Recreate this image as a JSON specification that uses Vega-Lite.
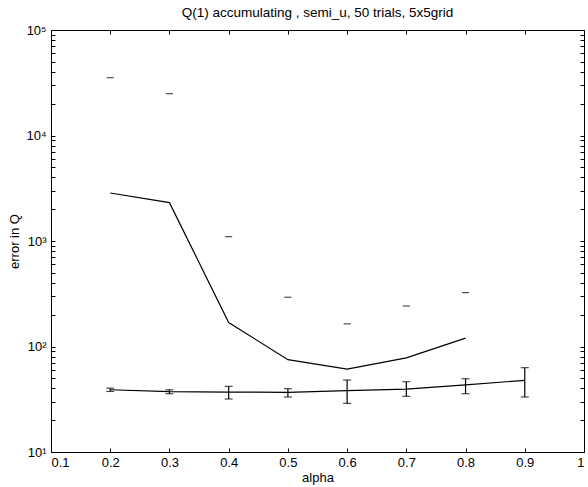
{
  "$schema": "https://vega.github.io/schema/vega-lite/v6.json",
  "width": 533,
  "height": 422,
  "autosize": {"type": "none"},
  "padding": {"left": 51, "top": 30, "right": 4, "bottom": 35},
  "background": "white",
  "title": {"text": "Q(1) accumulating , semi_u, 50 trials, 5x5grid", "fontSize": 13.5, "fontWeight": "normal", "font": "Liberation Sans", "anchor": "middle", "offset": 5, "color": "black"},
  "config": {
    "view": {"stroke": "black", "strokeWidth": 1},
    "font": "Liberation Sans",
    "axis": {"grid": false, "domain": false, "tickColor": "black", "tickSize": 4, "offset": -4, "labelFontSize": 13, "labelColor": "black", "titleFontSize": 13, "titleFontWeight": "normal", "titleColor": "black", "labelFont": "Liberation Sans", "titleFont": "Liberation Sans"}
  },
  "datasets": {
    "upper": [
      {"alpha": 0.2, "mean": 2850, "cap": 35300},
      {"alpha": 0.3, "mean": 2310, "cap": 24900},
      {"alpha": 0.4, "mean": 169, "cap": 1100},
      {"alpha": 0.5, "mean": 75, "cap": 293},
      {"alpha": 0.6, "mean": 61, "cap": 164},
      {"alpha": 0.7, "mean": 78, "cap": 242},
      {"alpha": 0.8, "mean": 120, "cap": 324}
    ],
    "lower": [
      {"alpha": 0.2, "mean": 38.9, "lo": 37.5, "hi": 40.3},
      {"alpha": 0.3, "mean": 37.3, "lo": 35.7, "hi": 38.9},
      {"alpha": 0.4, "mean": 37.0, "lo": 31.8, "hi": 41.9},
      {"alpha": 0.5, "mean": 36.8, "lo": 33.2, "hi": 39.8},
      {"alpha": 0.6, "mean": 38.1, "lo": 28.9, "hi": 48.1},
      {"alpha": 0.7, "mean": 39.5, "lo": 33.7, "hi": 46.4},
      {"alpha": 0.8, "mean": 43.2, "lo": 35.7, "hi": 49.5},
      {"alpha": 0.9, "mean": 47.8, "lo": 33.2, "hi": 63.0}
    ]
  },
  "layer": [
    {
      "data": {"name": "upper"},
      "mark": {"type": "line", "color": "black", "strokeWidth": 1.2},
      "encoding": {
        "x": {"field": "alpha", "type": "quantitative", "scale": {"domain": [0.1, 1], "nice": false, "zero": false},
              "axis": {"orient": "bottom", "title": "alpha", "values": [0.1, 0.2, 0.3, 0.4, 0.5, 0.6, 0.7, 0.8, 0.9, 1], "format": "~g", "labelPadding": 4, "titlePadding": 2}},
        "y": {"field": "mean", "type": "quantitative", "scale": {"type": "log", "domain": [10, 100000], "nice": false},
              "axis": {"orient": "left", "title": "error in Q", "titlePadding": 4, "labelPadding": 5,
                       "values": [10,20,30,40,50,60,70,80,90,100,200,300,400,500,600,700,800,900,1000,2000,3000,4000,5000,6000,7000,8000,9000,10000,20000,30000,40000,50000,60000,70000,80000,90000,100000],
                       "labelExpr": "datum.value == 10 ? '10¹' : datum.value == 100 ? '10²' : datum.value == 1000 ? '10³' : datum.value == 10000 ? '10⁴' : datum.value == 100000 ? '10⁵' : ''"}}
      }
    },
    {
      "data": {"name": "lower"},
      "mark": {"type": "line", "color": "black", "strokeWidth": 1.2},
      "encoding": {
        "x": {"field": "alpha", "type": "quantitative", "axis": {"orient": "top", "labels": false, "title": null, "values": [0.1, 0.2, 0.3, 0.4, 0.5, 0.6, 0.7, 0.8, 0.9, 1]}},
        "y": {"field": "mean", "type": "quantitative", "axis": {"orient": "right", "labels": false, "title": null,
              "values": [10,20,30,40,50,60,70,80,90,100,200,300,400,500,600,700,800,900,1000,2000,3000,4000,5000,6000,7000,8000,9000,10000,20000,30000,40000,50000,60000,70000,80000,90000,100000]}}
      }
    },
    {
      "data": {"name": "upper"},
      "mark": {"type": "tick", "orient": "horizontal", "color": "black", "size": 7, "thickness": 1.2},
      "encoding": {
        "x": {"field": "alpha", "type": "quantitative", "axis": null},
        "y": {"field": "cap", "type": "quantitative", "axis": null}
      }
    },
    {
      "data": {"name": "lower"},
      "mark": {"type": "rule", "color": "black", "strokeWidth": 1.2},
      "encoding": {
        "x": {"field": "alpha", "type": "quantitative", "axis": null},
        "y": {"field": "lo", "type": "quantitative", "axis": null},
        "y2": {"field": "hi"}
      }
    },
    {
      "data": {"name": "lower"},
      "mark": {"type": "tick", "orient": "horizontal", "color": "black", "size": 8, "thickness": 1.2},
      "encoding": {
        "x": {"field": "alpha", "type": "quantitative", "axis": null},
        "y": {"field": "lo", "type": "quantitative", "axis": null}
      }
    },
    {
      "data": {"name": "lower"},
      "mark": {"type": "tick", "orient": "horizontal", "color": "black", "size": 8, "thickness": 1.2},
      "encoding": {
        "x": {"field": "alpha", "type": "quantitative", "axis": null},
        "y": {"field": "hi", "type": "quantitative", "axis": null}
      }
    }
  ],
  "resolve": {"axis": {"x": "independent", "y": "independent"}}
}
